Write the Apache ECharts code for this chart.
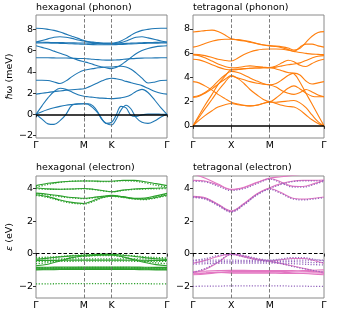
<!DOCTYPE html>
<html><head><meta charset="utf-8">
<script src="https://cdn.jsdelivr.net/npm/echarts@6/dist/echarts.min.js"></script>
<style>html,body{margin:0;padding:0;background:#fff}#c{width:360px;height:315px}</style>
</head><body><div id="c"></div><script>
// ---- path coordinates ----
const hexTicks = [0, 0.577, 0.910, 1.577];
const hexTickLabels = ['Γ', 'M', 'K', 'Γ'];
const tetTicks = [0, 0.5, 1.0, 1.707];
const tetTickLabels = ['Γ', 'X', 'M', 'Γ'];
const phononHexYTicks = [-2, 0, 2, 4, 6, 8];
const phononTetYTicks = [0, 2, 4, 6, 8];
const elecYTicks = [-2, 0, 2, 4];

const kHexPh = [0, 0.072, 0.144, 0.217, 0.289, 0.361, 0.433, 0.506, 0.577, 0.626, 0.686, 0.746, 0.795, 0.843, 0.910, 0.963, 1.023, 1.084, 1.144, 1.204, 1.276, 1.348, 1.433, 1.505, 1.577];
const kTetPh = [0, 0.078, 0.156, 0.248, 0.326, 0.417, 0.5, 0.586, 0.665, 0.743, 0.834, 0.912, 1.0, 1.082, 1.16, 1.238, 1.316, 1.394, 1.472, 1.551, 1.629, 1.707];
const kHexEl = [0, 0.144, 0.289, 0.433, 0.577, 0.686, 0.795, 0.910, 1.047, 1.180, 1.312, 1.445, 1.577];
const kTetEl = [0, 0.169, 0.326, 0.5, 0.665, 0.834, 1.0, 1.147, 1.29, 1.433, 1.577, 1.707];

// ---- hexagonal phonon bands (meV) ----
const hexPhonon = [
  [8.1, 8.08, 8.0, 7.9, 7.75, 7.55, 7.35, 7.15, 6.95, 6.85, 6.8, 6.75, 6.72, 6.7, 6.7, 6.75, 6.9, 7.15, 7.45, 7.7, 7.9, 8.0, 8.08, 8.1, 8.1],
  [6.8, 6.95, 7.1, 7.25, 7.3, 7.25, 7.15, 7.0, 6.9, 6.82, 6.75, 6.7, 6.68, 6.66, 6.65, 6.68, 6.75, 6.9, 7.1, 7.25, 7.3, 7.2, 7.05, 6.9, 6.8],
  [6.78, 6.78, 6.77, 6.76, 6.75, 6.74, 6.73, 6.72, 6.72, 6.7, 6.68, 6.66, 6.64, 6.62, 6.62, 6.63, 6.65, 6.68, 6.7, 6.72, 6.74, 6.76, 6.77, 6.78, 6.78],
  [6.72, 6.72, 6.71, 6.7, 6.68, 6.66, 6.64, 6.62, 6.6, 6.58, 6.56, 6.55, 6.55, 6.55, 6.55, 6.56, 6.58, 6.6, 6.63, 6.65, 6.67, 6.69, 6.7, 6.71, 6.72],
  [6.45, 6.3, 6.15, 5.95, 5.75, 5.55, 5.3, 5.1, 4.95, 4.85, 4.7, 4.55, 4.45, 4.38, 4.3, 4.4, 4.65, 5.0, 5.35, 5.7, 6.0, 6.2, 6.35, 6.42, 6.45],
  [5.32, 5.32, 5.32, 5.31, 5.3, 5.3, 5.28, 5.26, 5.25, 5.22, 5.18, 5.15, 5.12, 5.1, 5.1, 5.12, 5.15, 5.2, 5.24, 5.27, 5.29, 5.3, 5.31, 5.32, 5.32],
  [1.9, 1.98, 2.06, 2.14, 2.2, 2.26, 2.31, 2.36, 2.4, 2.55, 2.75, 2.98, 3.15, 3.3, 3.4, 3.35, 3.25, 3.1, 2.98, 2.85, 2.7, 2.45, 2.15, 1.98, 1.9],
  [3.2, 3.2, 3.18, 3.05, 2.9, 3.15, 3.55, 3.9, 4.15, 4.22, 4.3, 4.38, 4.42, 4.45, 4.45, 4.5, 4.52, 4.45, 4.25, 3.9, 3.4, 2.95, 3.05, 3.18, 3.2],
  [0, 0.8, 1.55, 2.15, 2.45, 2.35, 2.1, 1.85, 1.7, 1.65, 1.6, 1.55, 1.52, 1.5, 1.48, 1.5, 1.55, 1.65, 1.85, 2.15, 2.35, 2.05, 1.3, 0.6, 0],
  [0, 0.25, 0.45, 0.62, 0.75, 0.85, 0.92, 0.98, 1.0, 1.0, 0.8, 0.2, -0.45, -0.85, -0.75, -0.1, 0.75, 0.6, -0.1, -0.2, -0.05, 0.02, 0.02, 0.01, 0],
  [0, -0.45, -0.9, -0.95, -0.6, 0.0, 0.85, 0.97, 1.0, 0.95, 0.6, 0.1, -0.5, -0.85, -1.0, -0.5, 0.4, 0.85, 0.5, -0.3, -0.75, -0.85, -0.6, -0.25, 0]
];

// ---- tetragonal phonon bands (meV) ----
const tetPhonon = [
  [7.75, 7.8, 7.86, 7.9, 7.78, 7.5, 7.18, 7.12, 7.05, 6.95, 6.8, 6.7, 6.62, 6.58, 6.52, 6.42, 6.25, 6.4, 6.9, 7.4, 7.7, 7.78],
  [6.5, 6.62, 6.8, 6.98, 7.1, 7.15, 7.15, 7.08, 7.0, 6.9, 6.78, 6.68, 6.6, 6.55, 6.45, 6.3, 6.15, 6.5, 6.75, 6.75, 6.6, 6.5],
  [5.9, 5.88, 5.8, 5.65, 5.5, 5.4, 5.35, 5.6, 5.9, 6.1, 6.25, 6.32, 6.35, 6.35, 6.33, 6.25, 6.15, 6.05, 5.98, 5.92, 5.9, 5.88],
  [5.85, 5.8, 5.62, 5.35, 5.1, 4.9, 4.8, 4.82, 4.9, 4.95, 4.9, 4.85, 4.8, 4.85, 4.95, 5.05, 5.1, 5.2, 5.4, 5.6, 5.75, 5.8],
  [5.5, 5.45, 5.3, 5.05, 4.85, 4.68, 4.62, 4.65, 4.7, 4.75, 4.78, 4.8, 4.82, 4.95, 5.2, 5.42, 5.3, 5.0, 4.9, 5.15, 5.38, 5.5],
  [3.65, 3.55, 3.3, 2.95, 2.6, 2.25, 1.95, 1.8, 1.7, 1.65, 1.7, 1.85, 2.0, 1.85, 1.7, 1.6, 1.55, 1.3, 0.9, 0.5, 0.2, 0],
  [2.4, 2.5, 2.75, 3.2, 3.7, 4.2, 4.5, 4.4, 4.2, 3.95, 3.7, 3.5, 3.4, 3.5, 3.8, 4.15, 4.35, 4.2, 3.7, 3.45, 3.55, 3.65],
  [2.35, 2.45, 2.7, 3.05, 3.45, 3.85, 4.15, 3.9, 3.5, 3.0, 2.55, 2.2, 2.0, 2.3, 2.7, 3.1, 3.3, 3.05, 2.7, 2.45, 2.4, 2.4],
  [0, 0.85, 1.7, 2.6, 3.4, 4.1, 4.65, 4.7, 4.73, 4.76, 4.78, 4.8, 4.8, 4.7, 4.55, 4.4, 4.3, 3.6, 2.7, 1.8, 0.9, 0],
  [0, 0.7, 1.4, 2.2, 2.9, 3.6, 4.1, 3.95, 3.8, 3.65, 3.52, 3.43, 3.38, 3.2, 2.9, 2.7, 2.6, 2.75, 3.0, 2.8, 2.55, 2.4],
  [0, 0.45, 0.85, 1.25, 1.55, 1.75, 1.85, 1.75, 1.68, 1.65, 1.72, 1.85, 1.95, 1.95, 2.0, 2.05, 2.1, 1.9, 1.5, 0.9, 0.35, 0]
];

// ---- hexagonal electron bands (eV) ----
const hexElecSolid = [
  [4.18, 4.32, 4.4, 4.45, 4.46, 4.46, 4.45, 4.45, 4.5, 4.5, 4.42, 4.3, 4.18],
  [4.05, 3.98, 3.96, 3.97, 4.0, 3.96, 3.88, 3.8, 3.9, 3.97, 4.0, 4.02, 4.05],
  [3.72, 3.65, 3.55, 3.45, 3.4, 3.45, 3.52, 3.58, 3.5, 3.4, 3.42, 3.55, 3.7],
  [3.62, 3.5, 3.3, 3.15, 3.08, 3.25, 3.45, 3.55, 3.48, 3.38, 3.35, 3.45, 3.6],
  [-0.35, -0.28, -0.2, -0.14, -0.1, -0.07, -0.05, -0.05, -0.1, -0.17, -0.25, -0.32, -0.36],
  [-0.75, -0.65, -0.45, -0.25, -0.15, -0.12, -0.1, -0.1, -0.2, -0.38, -0.55, -0.68, -0.75],
  [-0.42, -0.42, -0.41, -0.4, -0.4, -0.4, -0.4, -0.4, -0.4, -0.41, -0.41, -0.42, -0.42],
  [-0.85, -0.84, -0.83, -0.82, -0.82, -0.82, -0.82, -0.82, -0.82, -0.83, -0.84, -0.85, -0.85],
  [-0.9, -0.9, -0.89, -0.88, -0.88, -0.88, -0.88, -0.88, -0.88, -0.89, -0.9, -0.9, -0.9],
  [-0.96, -0.95, -0.94, -0.93, -0.93, -0.93, -0.93, -0.93, -0.93, -0.94, -0.95, -0.96, -0.96],
  [-1.0, -0.99, -0.98, -0.97, -0.97, -0.97, -0.97, -0.97, -0.97, -0.98, -0.99, -1.0, -1.0]
];
const hexElecDotted = [
  [4.1, 4.25, 4.38, 4.45, 4.47, 4.45, 4.42, 4.42, 4.48, 4.45, 4.35, 4.2, 4.1],
  [4.0, 3.95, 3.95, 3.97, 3.98, 3.94, 3.86, 3.8, 3.88, 3.95, 3.97, 3.98, 4.0],
  [3.68, 3.6, 3.5, 3.42, 3.38, 3.42, 3.5, 3.56, 3.48, 3.38, 3.38, 3.5, 3.66],
  [3.58, 3.45, 3.25, 3.1, 3.05, 3.2, 3.42, 3.52, 3.45, 3.35, 3.32, 3.42, 3.56],
  [-0.25, -0.22, -0.18, -0.12, -0.08, -0.05, -0.04, -0.04, -0.08, -0.14, -0.2, -0.24, -0.26],
  [-0.33, -0.33, -0.33, -0.32, -0.32, -0.32, -0.32, -0.32, -0.32, -0.33, -0.33, -0.33, -0.33],
  [-0.48, -0.48, -0.47, -0.47, -0.46, -0.46, -0.46, -0.46, -0.46, -0.47, -0.47, -0.48, -0.48],
  [-0.62, -0.55, -0.4, -0.25, -0.17, -0.14, -0.12, -0.12, -0.22, -0.35, -0.48, -0.57, -0.62],
  [-0.87, -0.87, -0.86, -0.86, -0.85, -0.85, -0.85, -0.85, -0.85, -0.86, -0.86, -0.87, -0.87],
  [-0.95, -0.95, -0.94, -0.94, -0.94, -0.94, -0.94, -0.94, -0.94, -0.94, -0.95, -0.95, -0.95],
  [-1.86, -1.86, -1.85, -1.85, -1.85, -1.85, -1.85, -1.85, -1.85, -1.85, -1.85, -1.86, -1.86]
];

// ---- tetragonal electron bands (eV) ----
const tetElecSolid = [
  [4.5, 4.45, 4.22, 3.92, 4.05, 4.35, 4.62, 4.4, 4.15, 4.12, 4.3, 4.5],
  [4.9, 4.62, 4.28, 3.95, 4.08, 4.38, 4.64, 4.72, 4.8, 4.88, 4.95, 5.0],
  [3.48, 3.38, 3.0, 2.58, 3.05, 3.65, 4.0, 3.75, 3.42, 3.35, 3.4, 3.48],
  [3.52, 3.42, 3.03, 2.62, 3.08, 3.68, 4.05, 4.3, 4.45, 4.5, 4.5, 4.52],
  [-0.6, -0.4, -0.18, -0.02, -0.15, -0.33, -0.45, -0.38, -0.3, -0.3, -0.42, -0.6],
  [-1.2, -0.95, -0.55, -0.05, -0.2, -0.38, -0.48, -0.6, -0.75, -0.9, -1.05, -1.2],
  [-1.25, -1.2, -1.15, -1.1, -1.1, -1.1, -1.1, -1.1, -1.08, -1.05, -1.02, -1.0],
  [-1.3, -1.25, -1.18, -1.15, -1.15, -1.15, -1.15, -1.15, -1.18, -1.22, -1.26, -1.3],
  [-1.1, -1.08, -1.05, -1.03, -1.03, -1.04, -1.05, -1.05, -1.05, -1.08, -1.1, -1.12],
  [-1.2, -1.18, -1.15, -1.2, -1.2, -1.2, -1.2, -1.22, -1.22, -1.2, -1.18, -1.2]
];
const tetElecDotted = [
  [4.45, 4.4, 4.15, 3.88, 4.0, 4.3, 4.58, 4.35, 4.1, 4.08, 4.25, 4.45],
  [3.45, 3.33, 2.95, 2.55, 3.0, 3.6, 3.95, 3.7, 3.38, 3.3, 3.36, 3.45],
  [3.5, 3.38, 3.0, 2.6, 3.05, 3.63, 4.0, 4.25, 4.42, 4.47, 4.47, 4.48],
  [-0.45, -0.3, -0.12, -0.01, -0.12, -0.3, -0.4, -0.33, -0.25, -0.25, -0.35, -0.45],
  [-0.4, -0.4, -0.4, -0.4, -0.42, -0.42, -0.42, -0.4, -0.4, -0.4, -0.4, -0.4],
  [-0.52, -0.52, -0.5, -0.5, -0.5, -0.5, -0.5, -0.5, -0.5, -0.52, -0.55, -0.55],
  [-0.65, -0.62, -0.6, -0.58, -0.58, -0.58, -0.58, -0.6, -0.62, -0.65, -0.68, -0.7],
  [-1.15, -0.9, -0.5, -0.05, -0.2, -0.38, -0.48, -0.62, -0.78, -0.92, -1.05, -1.15],
  [-2.02, -2.0, -2.0, -1.98, -1.98, -1.98, -1.98, -1.98, -2.0, -2.0, -2.02, -2.02]
];

// ---- build chart ----
const FONT = 'DejaVu Sans';
const grids = [
  {left: 36, top: 15, width: 131, height: 123},
  {left: 193, top: 15, width: 131, height: 123},
  {left: 36, top: 176, width: 131, height: 122},
  {left: 193, top: 176, width: 131, height: 122}
].map(g => Object.assign(g, {show: true, borderColor: '#8a8a8a', borderWidth: 1, backgroundColor: 'transparent'}));

const fmtNum = v => (v < 0 ? '\u2212' + (-v) : String(v));

function xAxisFor(gi, ticks, labels) {
  return {
    gridIndex: gi, type: 'value', min: 0, max: ticks[ticks.length - 1],
    axisLine: {show: false}, splitLine: {show: false},
    axisTick: {show: true, customValues: ticks, length: 3, lineStyle: {color: '#333', width: 1}},
    axisLabel: {show: true, customValues: ticks, margin: 3, fontSize: 9.5, color: '#000', fontFamily: FONT,
      formatter: v => { const i = ticks.findIndex(t => Math.abs(t - v) < 1e-6); return i >= 0 ? labels[i] : ''; }}
  };
}
function yAxisFor(gi, min, max, ticks, name) {
  return {
    gridIndex: gi, type: 'value', min: min, max: max,
    axisLine: {show: false}, splitLine: {show: false},
    axisTick: {show: true, customValues: ticks, length: 3, lineStyle: {color: '#333', width: 1}},
    axisLabel: {show: true, customValues: ticks, margin: 3, fontSize: 9.5, color: '#000', fontFamily: FONT, formatter: fmtNum},
    name: name || '', nameLocation: 'middle', nameGap: 21,
    nameTextStyle: {fontSize: 9.5, color: '#000', fontFamily: FONT, rich: {i: {fontStyle: 'italic', fontSize: 9.5, fontFamily: FONT}}}
  };
}

const series = [];
function addBands(gi, k, bands, color, dotted, width) {
  bands.forEach(b => {
    series.push({
      type: 'line', xAxisIndex: gi, yAxisIndex: gi, showSymbol: false, symbol: 'none',
      smooth: 0.35, animation: false, silent: true, z: 3,
      lineStyle: {color: color, width: width, type: dotted ? [1.2, 1.6] : 'solid'},
      data: k.map((x, i) => [x, b[i]])
    });
  });
}
function addGuides(gi, ticks, zeroDashed) {
  const vl = ticks.slice(1, ticks.length - 1).map(t => ({xAxis: t, lineStyle: {color: '#6e6e6e', width: 0.9, type: [3.5, 2]}}));
  series.push({
    type: 'line', xAxisIndex: gi, yAxisIndex: gi, data: [], z: 2, animation: false, silent: true,
    markLine: {silent: true, symbol: 'none', animation: false, label: {show: false}, data: vl}
  });
  series.push({
    type: 'line', xAxisIndex: gi, yAxisIndex: gi, data: [], z: 5, animation: false, silent: true,
    markLine: {silent: true, symbol: 'none', animation: false, label: {show: false},
      data: [{yAxis: 0, lineStyle: {color: '#000', width: zeroDashed ? 1.2 : 1.5, type: zeroDashed ? [3.5, 2] : 'solid'}}]}
  });
}

addGuides(0, hexTicks, false);
addBands(0, kHexPh, hexPhonon, '#1f77b4', false, 1.1);
addGuides(1, tetTicks, false);
addBands(1, kTetPh, tetPhonon, '#ff7f0e', false, 1.1);
addGuides(2, hexTicks, true);
addBands(2, kHexEl, hexElecSolid, '#2ca02c', false, 1.1);
addBands(2, kHexEl, hexElecDotted, '#2ca02c', true, 1.3);
addGuides(3, tetTicks, true);
addBands(3, kTetEl, tetElecSolid, '#e377c2', false, 1.1);
addBands(3, kTetEl, tetElecDotted, '#9467bd', true, 1.3);

const titleStyle = {fontSize: 9.5, fontWeight: 'normal', color: '#000', fontFamily: FONT};
const option = {
  backgroundColor: '#fff',
  animation: false,
  title: [
    {text: 'hexagonal (phonon)', left: 36, top: 3, padding: 0, textStyle: titleStyle},
    {text: 'tetragonal (phonon)', left: 193, top: 3, padding: 0, textStyle: titleStyle},
    {text: 'hexagonal (electron)', left: 36, top: 163, padding: 0, textStyle: titleStyle},
    {text: 'tetragonal (electron)', left: 193, top: 163, padding: 0, textStyle: titleStyle}
  ],
  grid: grids,
  xAxis: [xAxisFor(0, hexTicks, hexTickLabels), xAxisFor(1, tetTicks, tetTickLabels), xAxisFor(2, hexTicks, hexTickLabels), xAxisFor(3, tetTicks, tetTickLabels)],
  yAxis: [
    yAxisFor(0, -2.23, 9.35, phononHexYTicks, 'ℏω (meV)'),
    yAxisFor(1, -1.0, 9.15, phononTetYTicks, ''),
    yAxisFor(2, -2.73, 4.77, elecYTicks, '{i|ε} (eV)'),
    yAxisFor(3, -2.73, 4.77, elecYTicks, '')
  ],
  series: series
};
const chart = echarts.init(document.getElementById('c'), null, {renderer: 'canvas'});
chart.setOption(option);
</script></body></html>
